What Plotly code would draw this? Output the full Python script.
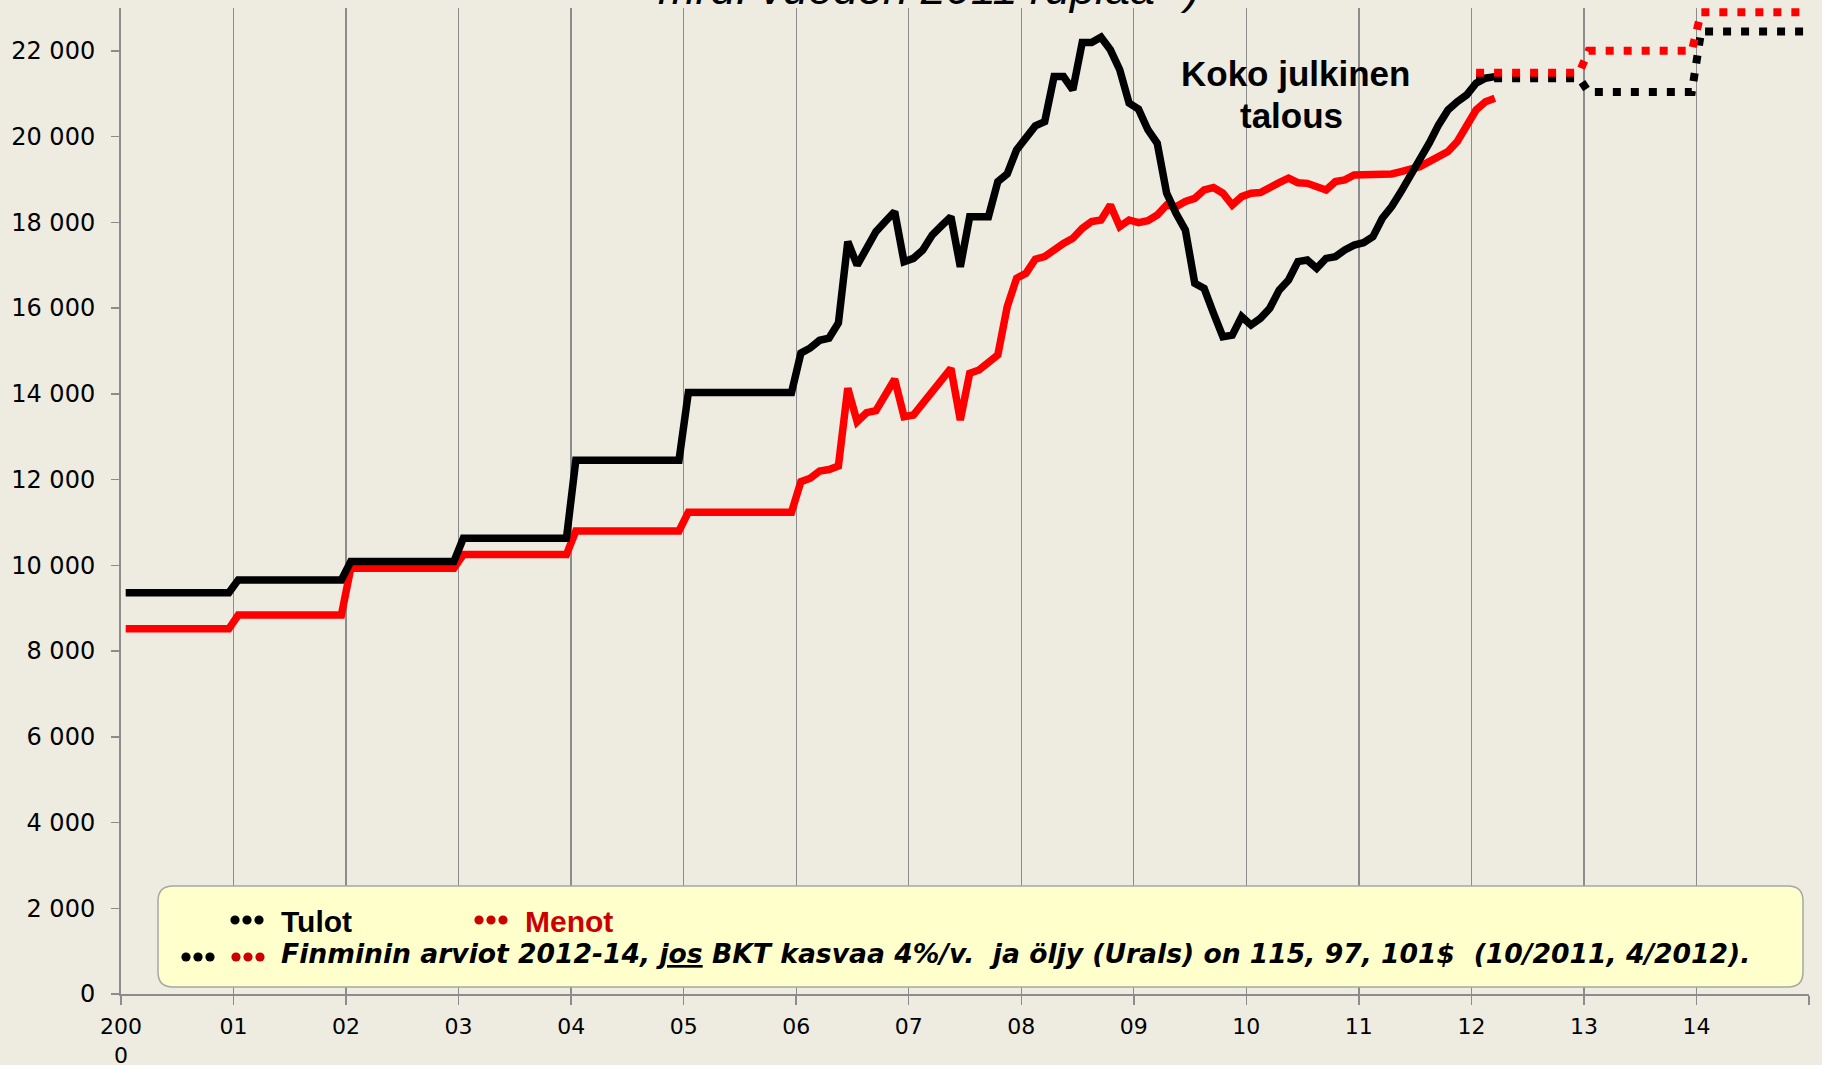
import numpy as np
import plotly.graph_objects as go

# ---------------- data (mrd. ruplaa, vuoden 2011 rahassa) ----------------
annual_years = [2000, 2001, 2002, 2003, 2004, 2005]
tulot_annual = [9360, 9660, 10090, 10630, 12450, 14030]
menot_annual = [8520, 8840, 9930, 10250, 10800, 11240]

monthly_start = 2006  # monthly values from Jan 2006 to Mar 2012
tulot_monthly = [
    14950, 15070, 15250, 15300, 15650, 17550, 17000, 17430, 17780, 18020, 18250, 17080,  # 2006
    17160, 17355, 17705, 17920, 18130, 16965, 18130, 18130, 18130, 18950, 19130, 19690,  # 2007
    19960, 20250, 20350, 21400, 21400, 21090, 22195, 22195, 22320, 22025, 21560, 20780,  # 2008
    20640, 20160, 19845, 18680, 18210, 17820, 16580, 16460, 15880, 15330, 15370, 15800,  # 2009
    15605, 15760, 15995, 16420, 16655, 17085, 17120, 16930, 17160, 17200, 17355, 17470,  # 2010
    17526, 17667, 18095, 18370, 18717, 19067, 19456, 19846, 20273, 20623, 20817, 20973,  # 2011
    21246, 21363, 21400,                                                                 # 2012
]
menot_monthly = [
    11950, 12030, 12200, 12235, 12315, 14130, 13350, 13560, 13605, 13935, 14340, 13465,  # 2006
    13505, 13775, 14050, 14285, 14595, 13390, 14480, 14555, 14710, 14905, 16030, 16695,  # 2007
    16810, 17140, 17200, 17370, 17510, 17630, 17860, 18020, 18055, 18405, 17900, 18055,  # 2008
    17995, 18040, 18170, 18405, 18365, 18485, 18560, 18755, 18810, 18680, 18405, 18600,  # 2009
    18680, 18695, 18835, 18925, 19030, 18925, 18910, 18835, 18755, 18950, 18990, 19105,  # 2010
    19105, 19105, 19105, 19130, 19185, 19240, 19300, 19415, 19535, 19650, 19885, 20275,  # 2011
    20620, 20815, 20895,                                                                 # 2012
]

forecast_years = [2012, 2013, 2014]
tulot_forecast = [21360, 21040, 22450]
menot_forecast = [21490, 22000, 22900]

y_tick_vals = [0, 2000, 4000, 6000, 8000, 10000, 12000, 14000, 16000, 18000, 20000, 22000]
y_tick_text = ["0", "2 000", "4 000", "6 000", "8 000", "10 000", "12 000",
               "14 000", "16 000", "18 000", "20 000", "22 000"]
x_tick_vals = list(range(2000, 2016))
x_tick_text = ["200<br>0", "01", "02", "03", "04", "05", "06", "07", "08", "09",
               "10", "11", "12", "13", "14", ""]

title_text = "mrd. vuoden 2011 ruplaa *)"
note_line1 = "Koko julkinen"
note_line2 = "talous"
legend_tulot = "Tulot"
legend_menot = "Menot"
legend_forecast = ("Finminin arviot 2012-14, <u>jos</u> BKT kasvaa 4%/v.\u00a0 ja öljy (Urals) "
                   "on 115, 97, 101$\u00a0 (10/2011, 4/2012).")

# ---------------- build monthly series ----------------
def months_x(start_year, n):
    return [start_year + (i + 0.5) / 12 for i in range(n)]

n_ann = len(annual_years) * 12
x_hist = months_x(annual_years[0], n_ann) + months_x(monthly_start, len(tulot_monthly))
y_tulot = list(np.repeat(tulot_annual, 12)) + tulot_monthly
y_menot = list(np.repeat(menot_annual, 12)) + menot_monthly

x_fc = months_x(forecast_years[0], len(forecast_years) * 12)
y_tulot_fc = list(np.repeat(tulot_forecast, 12))
y_menot_fc = list(np.repeat(menot_forecast, 12))

# ---------------- figure ----------------
W, H = 1822, 1065
ML, MR, MT, MB = 121, 13, 8, 71
PW, PH = W - ML - MR, H - MT - MB

def px_x(px):
    return (px - ML) / PW

def px_y(py):
    return (H - MB - py) / PH

FONT = "Liberation Sans, Arial, sans-serif"
WIDE = "DejaVu Sans, Verdana, sans-serif"
BG = "#EEEBE0"
GRID = "#8C8C8C"
DARKRED = "#CC0000"

fig = go.Figure()
fig.add_trace(go.Scatter(x=x_hist, y=y_menot, mode="lines",
                         line=dict(color="#FF0000", width=7.5), showlegend=False))
fig.add_trace(go.Scatter(x=x_hist, y=y_tulot, mode="lines",
                         line=dict(color="#000000", width=7.5), showlegend=False))
fig.add_trace(go.Scatter(x=x_fc, y=y_tulot_fc, mode="lines",
                         line=dict(color="#000000", width=8, dash="8px,10px"), showlegend=False))
fig.add_trace(go.Scatter(x=x_fc, y=y_menot_fc, mode="lines",
                         line=dict(color="#FF0000", width=8, dash="8px,10px"), showlegend=False))

# rounded legend box
x0, x1 = px_x(158), px_x(1803)
y0, y1 = px_y(987), px_y(886)
rx, ry = 15 / PW, 15 / PH
box_path = (f"M {x0+rx},{y0} L {x1-rx},{y0} Q {x1},{y0} {x1},{y0+ry} "
            f"L {x1},{y1-ry} Q {x1},{y1} {x1-rx},{y1} L {x0+rx},{y1} "
            f"Q {x0},{y1} {x0},{y1-ry} L {x0},{y0+ry} Q {x0},{y0} {x0+rx},{y0} Z")
fig.add_shape(type="path", path=box_path, xref="paper", yref="paper",
              fillcolor="#FFFFCC", line=dict(color="#A6A6A6", width=1.5), layer="above")

# legend sample dots (three dots per sample)
def add_dots(cx_first, cy, color):
    for k in range(3):
        cx = cx_first + 12 * k
        fig.add_shape(type="circle", xref="paper", yref="paper",
                      x0=px_x(cx - 4.6), x1=px_x(cx + 4.6),
                      y0=px_y(cy + 4.6), y1=px_y(cy - 4.6),
                      fillcolor=color, line=dict(width=0), layer="above")

add_dots(235, 920, "#000000")
add_dots(479, 920, DARKRED)
add_dots(186, 957, "#000000")
add_dots(236, 957, DARKRED)

ann = []
ann.append(dict(text=title_text, xref="paper", yref="paper", x=px_x(929), y=px_y(16),
                xanchor="center", yanchor="bottom", showarrow=False,
                font=dict(family=FONT, size=45, color="#000000", style="italic")))
ann.append(dict(text="<b>" + note_line1 + "</b>", xref="paper", yref="paper",
                x=px_x(1295), y=px_y(73), xanchor="center", yanchor="middle",
                showarrow=False, font=dict(family=FONT, size=35, color="#000000")))
ann.append(dict(text="<b>" + note_line2 + "</b>", xref="paper", yref="paper",
                x=px_x(1291), y=px_y(115), xanchor="center", yanchor="middle",
                showarrow=False, font=dict(family=FONT, size=35, color="#000000")))
# legend row 1
ann.append(dict(text="<b>" + legend_tulot + "</b>", xref="paper", yref="paper", x=px_x(279),
                y=px_y(921), xanchor="left", yanchor="middle", showarrow=False,
                font=dict(family=FONT, size=30, color="#000000")))
ann.append(dict(text="<b>" + legend_menot + "</b>", xref="paper", yref="paper", x=px_x(523),
                y=px_y(921), xanchor="left", yanchor="middle", showarrow=False,
                font=dict(family=FONT, size=30, color=DARKRED)))
# legend row 2
ann.append(dict(text="<b><i>" + legend_forecast + "</i></b>", xref="paper", yref="paper",
                x=px_x(279), y=px_y(953), xanchor="left", yanchor="middle", showarrow=False,
                font=dict(family=WIDE, size=26.6, color="#000000")))

fig.update_layout(
    width=W, height=H,
    margin=dict(l=ML, r=MR, t=MT, b=MB, pad=0),
    paper_bgcolor=BG, plot_bgcolor=BG,
    font=dict(family=FONT, color="#000000"),
    showlegend=False,
    annotations=ann,
    xaxis=dict(range=[2000, 2015], tickmode="array", tickvals=x_tick_vals, ticktext=x_tick_text,
               showgrid=True, gridcolor=GRID, gridwidth=1.3, zeroline=False,
               showline=True, linecolor=GRID, linewidth=2,
               ticks="outside", ticklen=9, tickcolor=GRID, tickwidth=1.5,
               tickfont=dict(family=WIDE, size=22, color="#000000"),
               ticklabelstandoff=3, automargin=False, fixedrange=True),
    yaxis=dict(range=[0, 23000], tickmode="array", tickvals=y_tick_vals, ticktext=y_tick_text,
               showgrid=False, zeroline=False,
               showline=True, linecolor=GRID, linewidth=2,
               ticks="outside", ticklen=8, tickcolor=GRID, tickwidth=1.5,
               tickfont=dict(family=WIDE, size=24, color="#000000"),
               ticklabelstandoff=11, automargin=False, fixedrange=True),
)

page_css = ("document.documentElement.style.margin='0';"
            "document.body.style.margin='0';"
            "document.body.style.overflow='hidden';"
            "document.body.style.background='" + BG + "';"
            "document.documentElement.style.background='" + BG + "';")

fig.write_html("out.html", post_script=page_css,
               config={"displayModeBar": False, "staticPlot": True})
